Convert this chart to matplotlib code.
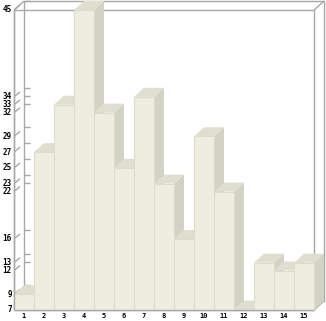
import numpy as np
import matplotlib.pyplot as plt
from matplotlib.patches import Polygon
from matplotlib.transforms import ScaledTranslation

cats = list(range(1, 16))
vals = [9, 27, 33, 45, 32, 25, 34, 23, 16, 29, 22, 7, 13, 12, 13]
yticks = [7, 9, 12, 13, 16, 22, 23, 25, 27, 29, 32, 33, 34, 45]

front_c = '#eeeedf'
top_c = '#dfdfd0'
side_c = '#d3d3c3'
edge_c = '#dcdccc'
frame_c = '#a8a8a8'

W, H = 326, 321
fig = plt.figure(figsize=(W / 100, H / 100), dpi=100)
ax = fig.add_axes([14 / W, (H - 310) / H, 300 / W, 300 / H])
x0, x1 = 0.5, 15.5
y0, y1 = 7, 45
ax.set_xlim(x0, x1)
ax.set_ylim(y0, y1)
for s in ax.spines.values():
    s.set_visible(False)

# depth offset in data units (10px right, 9px up)
dx = 10 / 20
dy = 9 / (300 / (y1 - y0))

def line(xs, ys, **kw):
    ax.plot(xs, ys, color=frame_c, lw=1, clip_on=False, solid_capstyle='butt', **kw)

# back wall box
line([x0 + dx, x1 + dx, x1 + dx, x0 + dx, x0 + dx],
     [y0 + dy, y0 + dy, y1 + dy, y1 + dy, y0 + dy], zorder=1)
# front box + corners
line([x0, x1, x1, x0, x0], [y0, y0, y1, y1, y0], zorder=1)
for cx, cy in [(x0, y1), (x1, y1), (x1, y0), (x0, y0)]:
    line([cx, cx + dx], [cy, cy + dy], zorder=1)

# ticks on back wall and slanted ticks on the front edge
for v in yticks:
    line([x0 + dx, x0 + dx + 0.3], [v + dy, v + dy], zorder=1)
    line([x0 + 0.05, x0 + 0.3], [v + 0.1, v + dy * 0.55], zorder=1)

# bars, left to right
for c, v in zip(cats, vals):
    l, r = c - 0.5, c + 0.5
    side = [(r, y0), (r + dx, y0 + dy), (r + dx, v + dy), (r, v)]
    top = [(l, v), (l + dx, v + dy), (r + dx, v + dy), (r, v)]
    front = [(l, y0), (r, y0), (r, v), (l, v)]
    ax.add_patch(Polygon(side, closed=True, fc=side_c, ec='none', zorder=3, clip_on=False))
    ax.add_patch(Polygon(top, closed=True, fc=top_c, ec='none', zorder=3, clip_on=False))
    ax.add_patch(Polygon(front, closed=True, fc=front_c, ec=edge_c, lw=0.8, zorder=3, clip_on=False))

line([x0, x1], [y0, y0], zorder=4)
line([x0, x0], [y0, y1], zorder=4)

ax.set_xticks(cats)
ax.set_xticklabels([str(c) for c in cats], fontsize=5, family='DejaVu Sans Mono', weight='bold')
ax.set_yticks(yticks)
ax.set_yticklabels([str(v) for v in yticks], fontsize=5.5, family='DejaVu Sans Mono', weight='bold')
shift = ScaledTranslation(0, 1.5 / 100, fig.dpi_scale_trans)
for t in ax.get_yticklabels():
    t.set_verticalalignment('center')
    t.set_transform(t.get_transform() + shift)
ax.tick_params(axis='both', length=0)
ax.tick_params(axis='x', pad=2)
ax.tick_params(axis='y', pad=1.5)

fig.savefig('out.png', dpi=100, facecolor='white')
